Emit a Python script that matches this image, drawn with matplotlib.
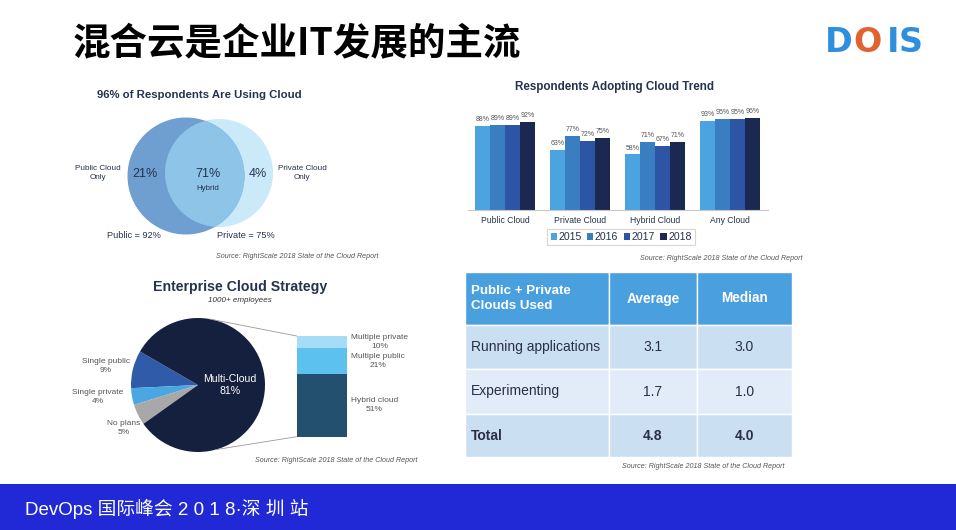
import numpy as np
import matplotlib.pyplot as plt
from matplotlib.patches import Circle, Rectangle, ConnectionPatch

plt.rcParams['font.family'] = ['Liberation Sans', 'Noto Sans CJK SC', 'DejaVu Sans']

W, H = 956, 530

# slide texts
slide_title = '混合云是企业IT发展的主流'
footer_text = 'DevOps 国际峰会 2 0 1 8·深 圳 站'
source_text = 'Source: RightScale 2018 State of the Cloud Report'

# venn
venn_title = '96% of Respondents Are Using Cloud'
public_only, hybrid, private_only = 21, 71, 4
public_total, private_total = 92, 75

# trend bars
trend_cats = ['Public Cloud', 'Private Cloud', 'Hybrid Cloud', 'Any Cloud']
trend_years = ['2015', '2016', '2017', '2018']
trend_vals = [
    [88, 63, 58, 93],
    [89, 77, 71, 95],
    [89, 72, 67, 95],
    [92, 75, 71, 96],
]
trend_colors = ['#4ba3e0', '#3a7ec2', '#2d55a6', '#1b2852']

# pie
pie_labels = ['Single public', 'Single private', 'No plans', 'Multi-Cloud']
pie_vals = [9, 4, 5, 81]
pie_colors = ['#2f5ba8', '#4aa7e2', '#a8a8a8', '#15203f']
multi_labels = ['Hybrid cloud', 'Multiple public', 'Multiple private']
multi_vals = [51, 21, 10]
multi_colors = ['#23506f', '#5cc1ef', '#a6ddf6']

# table
tbl_header = ['Public + Private\nClouds Used', 'Average', 'Median']
tbl_rows = ['Running applications', 'Experimenting', 'Total']
tbl_avg = ['3.1', '1.7', '4.8']
tbl_med = ['3.0', '1.0', '4.0']

navy = '#25334f'
grey = '#555555'

fig = plt.figure(figsize=(W / 100, H / 100), dpi=100, facecolor='white')


def px_axes(x0, y0, w, h):
    ax = fig.add_axes([x0 / W, 1 - (y0 + h) / H, w / W, h / H])
    ax.set_facecolor('none')
    return ax


bg = fig.add_axes([0, 0, 1, 1], zorder=-1)
bg.set_xlim(0, W)
bg.set_ylim(H, 0)
bg.axis('off')

# header / footer
bg.text(73, 44, slide_title, fontsize=27, fontweight='heavy', va='center',
        family=['Noto Sans CJK SC', 'DejaVu Sans'], color='black')
for ch, x, c in zip('DOIS', [839, 868, 893, 911], ['#2e8fdc', '#e0622e', '#2e8fdc', '#2e8fdc']):
    bg.text(x, 42, ch, fontsize=24, fontweight='bold', ha='center', va='center',
            color=c, family='DejaVu Sans')
bg.add_patch(Rectangle((0, 484), W, H - 484, color='#2129d6', lw=0))
bg.text(25, 509, footer_text, fontsize=13.5, color='white', va='center',
        family=['Liberation Sans', 'Noto Sans CJK SC'])

# venn
c_pub = Circle((186, 176), 58.5, color='#6e9fd0', lw=0)
c_prv = Circle((219, 173), 54, color='#cbeaf9', lw=0)
c_ovl = Circle((219, 173), 54, color='#8dc4e7', lw=0)
bg.add_patch(c_prv)
bg.add_patch(c_pub)
bg.add_patch(c_ovl)
c_ovl.set_clip_path(c_pub)
bg.text(199, 95, venn_title, fontsize=8.2, fontweight='bold', color=navy, ha='center', va='center')
bg.text(98, 173, 'Public Cloud\nOnly', fontsize=5.9, color=navy, ha='center', va='center', linespacing=1.35)
bg.text(302, 173, 'Private Cloud\nOnly', fontsize=5.9, color=navy, ha='center', va='center', linespacing=1.35)
bg.text(145, 174, f'{public_only}%', fontsize=9, color=navy, ha='center', va='center')
bg.text(208, 174, f'{hybrid}%', fontsize=9, color=navy, ha='center', va='center')
bg.text(208, 189, 'Hybrid', fontsize=5.7, color=navy, ha='center', va='center')
bg.text(258, 174, f'{private_only}%', fontsize=9, color=navy, ha='center', va='center')
bg.text(134, 236, f'Public = {public_total}%', fontsize=6.6, color=navy, ha='center', va='center')
bg.text(246, 236, f'Private = {private_total}%', fontsize=6.6, color=navy, ha='center', va='center')
bg.text(379, 257, source_text, fontsize=5.1, style='italic', color=grey, ha='right', va='center')

# trend bars
ax = px_axes(467.5, 114.3, 300, 95.7)
x = np.arange(len(trend_cats))
bw = 0.2
for i, (yr, vals, col) in enumerate(zip(trend_years, trend_vals, trend_colors)):
    pos = x - 0.3 + i * bw
    ax.bar(pos, vals, bw, color=col, label=yr)
    for p, v in zip(pos, vals):
        ax.text(p, v + 3, f'{v}%', fontsize=5, color=grey, ha='center', va='bottom')
ax.set_xlim(-0.5, 3.5)
ax.set_ylim(0, 100)
ax.set_yticks([])
ax.set_xticks(x, trend_cats, fontsize=6.2, color=navy)
ax.tick_params(axis='x', length=0, pad=4)
for s in ['top', 'left', 'right']:
    ax.spines[s].set_visible(False)
ax.spines['bottom'].set_color('#c8c8c8')
ax.spines['bottom'].set_linewidth(0.8)
leg = ax.legend(loc='center', bbox_to_anchor=(621 / W, 1 - 237 / H), bbox_transform=fig.transFigure,
                ncol=4, fontsize=7.6, frameon=True, fancybox=False, handlelength=0.6, handleheight=0.6,
                handletextpad=0.15, columnspacing=0.5, borderpad=0.3, edgecolor='#cccccc')
leg.get_frame().set_linewidth(0.8)
for t in leg.get_texts():
    t.set_color(navy)
bg.text(615, 87, 'Respondents Adopting Cloud Trend', fontsize=8.4, fontweight='bold',
        color=navy, ha='center', va='center')
bg.text(803, 258, source_text, fontsize=5.1, style='italic', color=grey, ha='right', va='center')

# pie
pax = px_axes(131, 318, 134, 134)
start = 150
pax.pie(pie_vals, colors=pie_colors, startangle=start, wedgeprops={'linewidth': 0})
pax.set_xlim(-1, 1)
pax.set_ylim(-1, 1)
fracs = np.array(pie_vals) / sum(pie_vals)
mids = start + 360 * (np.cumsum(fracs) - fracs / 2)
label_nudge = [(0.0, 0.03), (-0.08, 0.0), (0.08, -0.18)]
for n, v, m, (dx, dy) in zip(pie_labels[:-1], pie_vals[:-1], mids[:-1], label_nudge):
    a = np.radians(m)
    pax.text(1.05 * np.cos(a) + dx, 1.05 * np.sin(a) + dy, f'{n}\n{v}%', fontsize=6, color=grey,
             ha='right', va='center', multialignment='center', linespacing=1.4, clip_on=False)
pax.text(0.48, 0, f'{pie_labels[-1]}\n{pie_vals[-1]}%', fontsize=7.6, color='white',
         ha='center', va='center', multialignment='center', linespacing=1.3)

bax = px_axes(296.7, 336, 50.6, 100.7)
bottom = 0
for n, v, c in zip(multi_labels, multi_vals, multi_colors):
    bax.bar(0, v, 1, bottom=bottom, color=c, lw=0)
    bax.text(0.57, bottom + v / 2, f'{n}\n{v}%', fontsize=6, color=grey, ha='left', va='center',
             multialignment='center', linespacing=1.4)
    bottom += v
bax.set_xlim(-0.5, 0.5)
bax.set_ylim(0, sum(multi_vals))
bax.axis('off')

for ang, yb in [(80, sum(multi_vals)), (-75, 0)]:
    a = np.radians(ang)
    con = ConnectionPatch(xyA=(np.cos(a), np.sin(a)), coordsA=pax.transData,
                          xyB=(-0.5, yb), coordsB=bax.transData, color='#999999', lw=0.6)
    fig.add_artist(con)

bg.text(240, 287, 'Enterprise Cloud Strategy', fontsize=10.2, fontweight='bold', color=navy,
        ha='center', va='center')
bg.text(240, 300, '1000+ employees', fontsize=5.8, style='italic', color='#333333',
        ha='center', va='center')
bg.text(418, 460, source_text, fontsize=5.1, style='italic', color=grey, ha='right', va='center')

# table
col_edges = [465, 609, 697, 792]
row_edges = [272, 325, 369, 414, 457]
row_colors = ['#4a9fdf', '#cbdff3', '#e1ecf8', '#cbdff3']
for r in range(4):
    for c in range(3):
        bg.add_patch(Rectangle((col_edges[c], row_edges[r]), col_edges[c + 1] - col_edges[c],
                               row_edges[r + 1] - row_edges[r], facecolor=row_colors[r],
                               edgecolor='white', lw=1.0))
ymid = [(row_edges[i] + row_edges[i + 1]) / 2 for i in range(4)]
xmid = [(col_edges[i] + col_edges[i + 1]) / 2 for i in range(3)]
bg.text(471, ymid[0], tbl_header[0], fontsize=9.6, fontweight='bold', color='white',
        ha='left', va='center', linespacing=1.3)
for c in (1, 2):
    bg.text(xmid[c], ymid[0], tbl_header[c], fontsize=9.8, fontweight='bold', color='white',
            ha='center', va='center')
for r, (name, a, m) in enumerate(zip(tbl_rows, tbl_avg, tbl_med)):
    fw = 'bold' if name == 'Total' else 'normal'
    bg.text(471, ymid[r + 1], name, fontsize=10, color='#2a2f45', fontweight=fw, ha='left', va='center')
    bg.text(xmid[1], ymid[r + 1], a, fontsize=10, color='#2a2f45', fontweight=fw, ha='center', va='center')
    bg.text(xmid[2], ymid[r + 1], m, fontsize=10, color='#2a2f45', fontweight=fw, ha='center', va='center')
bg.text(785, 467, source_text, fontsize=5.1, style='italic', color=grey, ha='right', va='center')

fig.savefig('out.png', dpi=100)
